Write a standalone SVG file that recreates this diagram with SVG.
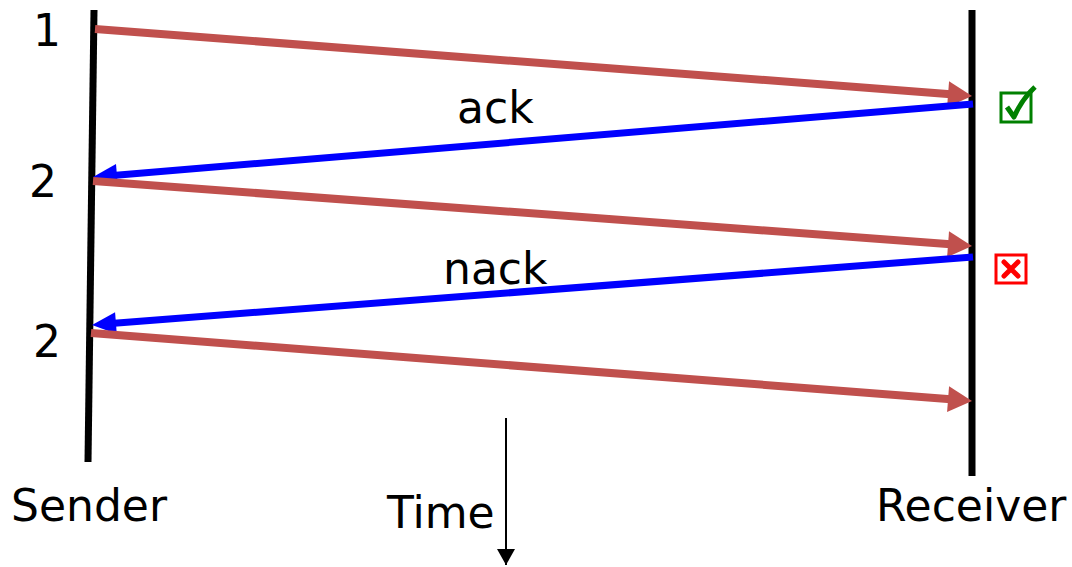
<svg xmlns="http://www.w3.org/2000/svg" width="1072" height="567" viewBox="0 0 1072 567">
<style>
.t{font-family:"DejaVu Sans",sans-serif;font-size:44px;fill:#000}
.red{stroke:#C0504D;stroke-width:8;fill:none}
.blue{stroke:#0000FF;stroke-width:7;fill:none}
.hr{fill:#C0504D}
.hb{fill:#0000FF}
</style>
<defs>
<path id="headr" d="M-24,-13 L0,0 L-24,13 Z"/>
<path id="headb" d="M-24,-11 L0,0 L-24,11 Z"/>
<marker id="mk" markerUnits="userSpaceOnUse" markerWidth="18" markerHeight="18" refX="16" refY="9" orient="auto"><path d="M0,0 L16,9 L0,18 Z" fill="#000"/></marker>
</defs>
<g id="sender"><line x1="94" y1="10" x2="88" y2="462" stroke="#000" stroke-width="7"/><text class="t" x="11" y="521">Sender</text></g>
<g id="receiver"><line x1="972" y1="10" x2="972" y2="476" stroke="#000" stroke-width="7"/><text class="t" x="876" y="521">Receiver</text></g>
<g id="labels">
<text class="t" x="33" y="46">1</text>
<text class="t" x="29" y="197">2</text>
<text class="t" x="33" y="357">2</text>
<text class="t" x="457" y="123">ack</text>
<text class="t" x="443" y="284">nack</text>
</g>
<g id="time"><text class="t" x="387" y="528">Time</text></g>
<g id="connectors">
<line class="red" x1="95" y1="29" x2="954" y2="94.5"/>
<use href="#headr" class="hr" transform="translate(972,96) rotate(4.36)"/>
<line class="blue" x1="973" y1="104" x2="113" y2="175.4"/>
<use href="#headb" class="hb" transform="translate(93,177) rotate(175.26)"/>
<line class="red" x1="93" y1="181" x2="954" y2="244.5"/>
<use href="#headr" class="hr" transform="translate(972,246) rotate(4.22)"/>
<line class="blue" x1="973" y1="257" x2="111" y2="323.5"/>
<use href="#headb" class="hb" transform="translate(92,325) rotate(175.59)"/>
<line class="red" x1="91" y1="333" x2="954" y2="399.5"/>
<use href="#headr" class="hr" transform="translate(972,401) rotate(4.40)"/>
<line x1="506" y1="418" x2="506" y2="565" stroke="#000" stroke-width="2" marker-end="url(#mk)"/>
</g>
<g id="check">
<rect x="1001" y="93" width="30" height="29" fill="none" stroke="#008000" stroke-width="3"/>
<path d="M1007,107 L1014,117 Q1022,99 1035,87" fill="none" stroke="#008000" stroke-width="5" stroke-linejoin="round"/>
</g>
<g id="cross">
<rect x="996" y="255" width="30" height="28" fill="none" stroke="#FF0000" stroke-width="3"/>
<path d="M1004,262 L1018,276 M1018,262 L1004,276" stroke="#FF0000" stroke-width="5" stroke-linecap="round"/>
</g>
</svg>
